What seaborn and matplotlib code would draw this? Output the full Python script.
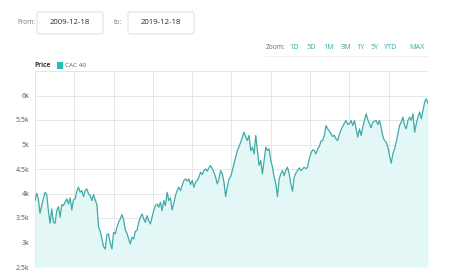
import pandas as pd
import matplotlib.pyplot as plt
import seaborn as sns
from matplotlib.patches import FancyBboxPatch, Rectangle

# CAC 40 closes at roughly two-week steps
cac40 = [
    3856, 4005, 3890, 3597, 3753, 3890, 4026, 3978, 3651, 3392,
    3685, 3413, 3392, 3651, 3733, 3515, 3774, 3753, 3822, 3890,
    3787, 3910, 3665, 3869, 3890, 4046, 4128, 4026, 4060, 3937,
    4060, 4094, 3992, 3958, 3856, 3978, 3869, 3774, 3311, 3229,
    3072, 2916, 2868, 3161, 3174, 2984, 2868, 3208, 3174, 3311,
    3413, 3481, 3570, 3460, 3256, 3188, 3072, 2970, 3106, 3072,
    3229, 3242, 3413, 3515, 3583, 3481, 3413, 3549, 3447, 3379,
    3515, 3651, 3753, 3787, 3719, 3822, 3651, 3856, 3753, 4026,
    3856, 3910, 3665, 3801, 3958, 4060, 4128, 4060, 4162, 4264,
    4298, 4251, 4298, 4183, 4264, 4128, 4230, 4264, 4332, 4435,
    4387, 4469, 4503, 4455, 4523, 4571, 4503, 4435, 4332, 4196,
    4298, 4469, 4401, 4230, 3937, 4128, 4298, 4346,
    4469, 4605, 4741, 4877, 4959, 5048, 5150, 5252, 5150, 5082,
    5184, 4877, 4946, 4809, 5184, 4877, 4571, 4673, 4401, 4673,
    4946, 4877, 4911, 4673, 4537, 4332, 4196, 3937, 4298, 4401,
    4469, 4366, 4469, 4537, 4401, 4196, 4046, 4332, 4414, 4469,
    4523, 4469, 4503, 4537, 4503, 4537, 4707, 4823, 4891, 4877,
    4809, 4911, 4959, 5068, 5082, 5184, 5388, 5320, 5272, 5218,
    5164, 5184, 5116, 5082, 5204, 5300, 5368, 5436, 5490, 5409,
    5422, 5490, 5388, 5490, 5320, 5150, 5320, 5184, 5354, 5490,
    5627, 5504, 5422, 5341, 5456, 5477, 5490, 5409, 5490, 5341,
    5164, 5082, 5048, 4946, 4775, 4619, 4809, 4911, 5048, 5218,
    5388, 5456, 5559, 5388, 5320, 5490, 5559, 5490, 5627, 5252,
    5422, 5559, 5661, 5525, 5695, 5865, 5933, 5831,
]
start, end = '2009-12-18', '2019-12-18'
y_ticks = [2500, 3000, 3500, 4000, 4500, 5000, 5500, 6000, 6500]
y_labels = ['2.5k', '3k', '3.5k', '4k', '4.5k', '5k', '5.5k', '6k', '']
zoom_buttons = ['1D', '5D', '1M', '3M', '1Y', '5Y', 'YTD', 'MAX']

df = pd.DataFrame({'date': pd.date_range(start, end, periods=len(cac40)),
                   'price': cac40})

sns.set_style('white')
plt.rcParams['font.family'] = ['Open Sans', 'DejaVu Sans']

line_col = '#3faaa8'
fill_col = '#e3f7f7'
grid_col = '#e6e6e6'

fig = plt.figure(figsize=(4.6, 2.8), dpi=100)
ax = fig.add_axes([35 / 460, 1 - 267 / 280, 393 / 460, 196 / 280])

ax.fill_between(df['date'], 2500, df['price'], color=fill_col, lw=0)
sns.lineplot(data=df, x='date', y='price', ax=ax, color=line_col, lw=0.9)

ax.set_xlim(df['date'].iloc[0], df['date'].iloc[-1])
ax.set_ylim(2500, 6500)
ax.set_xticks(pd.date_range(start, periods=11, freq=pd.DateOffset(years=1)))
ax.set_yticks(y_ticks)
ax.set_yticklabels(y_labels)
ax.tick_params(axis='x', length=0, labelbottom=False)
ax.tick_params(axis='y', length=0, labelsize=5, labelcolor='#555555', pad=4)
ax.grid(True, color=grid_col, lw=0.7)
ax.set_axisbelow(True)
ax.set_xlabel('')
ax.set_ylabel('')
for s in ax.spines.values():
    s.set_visible(False)

# date range inputs
for x0, txt in [(37, '2009-12-18'), (128, '2019-12-18')]:
    fig.patches.append(FancyBboxPatch((x0 / 460, 1 - 34 / 280), 66 / 460, 22 / 280,
                                      boxstyle='round,pad=0,rounding_size=0.006',
                                      transform=fig.transFigure,
                                      facecolor='white', edgecolor='#e2e2e2', lw=0.8))
    fig.text((x0 + 33) / 460, 1 - 23 / 280, txt, ha='center', va='center',
             fontsize=5.6, color='#2a2a2a')
fig.text(17 / 460, 1 - 23 / 280, 'From:', ha='left', va='center', fontsize=4.8, color='#777777')
fig.text(114 / 460, 1 - 23 / 280, 'to:', ha='left', va='center', fontsize=4.8, color='#777777')

# zoom buttons
fig.text(276 / 460, 1 - 47.5 / 280, 'Zoom:', ha='center', va='center', fontsize=4.8, color='#666666')
for xc, lab in zip([294, 311, 329, 346, 361, 375, 391, 417], zoom_buttons):
    fig.text(xc / 460, 1 - 47.5 / 280, lab, ha='center', va='center', fontsize=5.2, color='#3aa9a6')
fig.add_artist(plt.Line2D([265 / 460, 428 / 460], [1 - 56 / 280] * 2, color='#eeeeee', lw=0.6))

# legend
fig.text(34 / 460, 1 - 65.5 / 280, 'Price', ha='left', va='center', fontsize=4.8,
         fontweight='bold', color='#333333')
fig.patches.append(Rectangle((57 / 460, 1 - 69 / 280), 6 / 460, 7 / 280,
                             transform=fig.transFigure, facecolor='#26bcb8', lw=0))
fig.text(65 / 460, 1 - 65.5 / 280, 'CAC 40', ha='left', va='center', fontsize=4.6, color='#555555')

plt.savefig('out.png', dpi=100)
plt.close()
